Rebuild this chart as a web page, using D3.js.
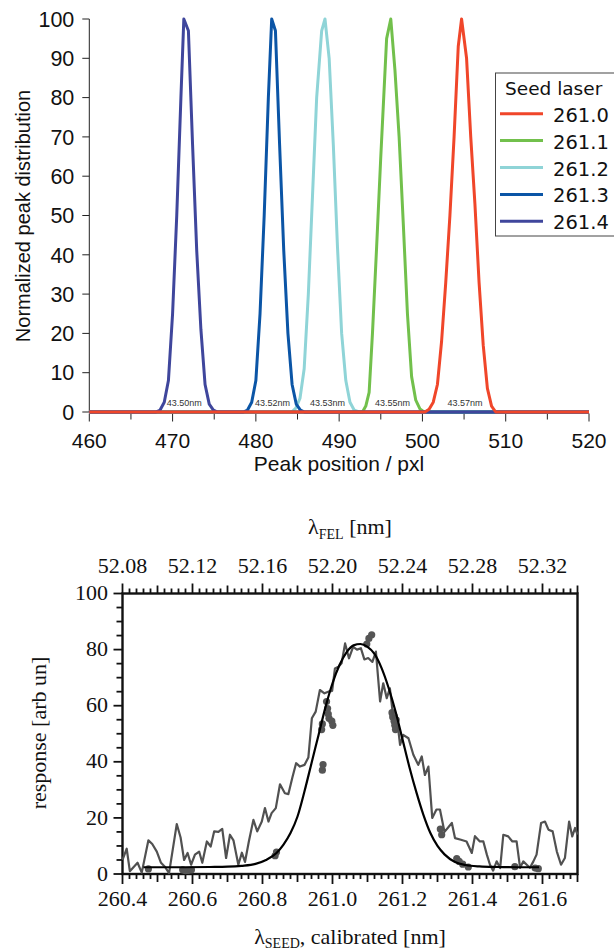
<!DOCTYPE html>
<html>
<head>
<meta charset="utf-8">
<script src="https://cdn.jsdelivr.net/npm/d3@7"></script>
<style>
  html, body { margin: 0; padding: 0; background: #fff; }
  svg { display: block; }
</style>
</head>
<body>
<svg id="chart" width="614" height="951"></svg>
<script>
// ---------------- DATA: top chart (peak distributions) ----------------
const seedLabels = ["261.0", "261.1", "261.2", "261.3", "261.4"];
const peakX_2610 = [460, 500.3, 500.8, 501.3, 501.8, 502.3, 502.8, 503.3, 503.8, 504.3, 504.7, 505.3, 505.8, 506.3, 506.8, 507.3, 507.8, 508.3, 508.8, 520];
const peakY_2610 = [0, 0, 0.7, 2.5, 7, 18, 33, 50, 70, 93, 100, 90, 70, 53, 33, 17, 6, 1.5, 0, 0];
const peakX_2611 = [460, 492.8, 493.2, 493.6, 494.0, 494.5, 495.0, 495.7, 496.2, 496.7, 497.2, 497.7, 498.2, 498.7, 499.2, 499.7, 500.2, 520];
const peakY_2611 = [0, 0, 1.5, 5, 20, 42, 65, 95, 100, 87, 70, 48, 25, 9, 3, 0.8, 0, 0];
const peakX_2612 = [460, 484.3, 484.8, 485.3, 485.8, 486.3, 486.8, 487.3, 487.9, 488.3, 488.8, 489.3, 489.8, 490.3, 490.8, 491.3, 491.8, 492.4, 520];
const peakY_2612 = [0, 0, 1, 3.5, 11, 30, 55, 80, 97, 100, 90, 68, 42, 20, 8, 2.5, 0.5, 0, 0];
const peakX_2613 = [460, 478.5, 479.0, 479.5, 480.0, 480.5, 481.0, 481.5, 481.9, 482.35, 482.85, 483.35, 483.85, 484.35, 484.85, 485.35, 485.85, 520];
const peakY_2613 = [0, 0, 0.5, 2.5, 8, 25, 50, 80, 100, 97, 68, 41, 20, 7, 2, 0.5, 0, 0];
const peakX_2614 = [460, 468.0, 468.5, 469.0, 469.5, 470.0, 470.5, 471.0, 471.35, 471.9, 472.4, 472.9, 473.4, 473.9, 474.4, 474.9, 475.4, 520];
const peakY_2614 = [0, 0, 0.5, 2.5, 8, 25, 50, 80, 100, 97, 68, 41, 21, 7, 2, 0.5, 0, 0];
const peakNotes = ["43.50nm", "43.52nm", "43.53nm", "43.55nm", "43.57nm"];
const peakNoteX = [471.4, 482.0, 488.6, 496.4, 505.1];
const topXTicks = [460, 470, 480, 490, 500, 510, 520];
const topYTicks = [0, 10, 20, 30, 40, 50, 60, 70, 80, 90, 100];

// ---------------- DATA: bottom chart (FEL response) ----------------
const noisyX = [260.400, 260.412, 260.421, 260.432, 260.443, 260.455, 260.474, 260.485, 260.498, 260.510, 260.521, 260.533,
  260.555, 260.566, 260.576, 260.586, 260.596, 260.607, 260.619, 260.628, 260.641, 260.652, 260.662, 260.674, 260.685,
  260.696, 260.707, 260.717, 260.731, 260.741, 260.750, 260.761, 260.774, 260.785, 260.798, 260.807, 260.817, 260.826,
  260.838, 260.850, 260.864, 260.874, 260.885, 260.896, 260.907, 260.920, 260.931, 260.941, 260.952, 260.964, 260.977,
  260.988, 260.999, 261.007, 261.017, 261.026, 261.036, 261.047, 261.059, 261.070, 261.081, 261.091, 261.102, 261.114,
  261.124, 261.136, 261.145, 261.155, 261.164, 261.174, 261.183, 261.193, 261.202, 261.217, 261.231, 261.245, 261.255,
  261.264, 261.274, 261.285, 261.297, 261.307, 261.320, 261.341, 261.350, 261.367, 261.383, 261.398, 261.407, 261.421,
  261.431, 261.441, 261.450, 261.459, 261.469, 261.479, 261.488, 261.502, 261.514, 261.526, 261.536, 261.545, 261.555,
  261.564, 261.574, 261.583, 261.596, 261.607, 261.617, 261.629, 261.641, 261.653, 261.664, 261.676, 261.685, 261.693, 261.700];
const noisyY = [5, 9, 1, 2.5, 4, 0.5, 12, 10.7, 8, 4, 2.6, 0.3,
  17.8, 13, 5, 7.5, 3.3, 6.9, 8, 4, 11.6, 9.8, 15.2, 15, 16.1,
  5.7, 14, 12, 3.3, 7.6, 4.3, 11.6, 19.3, 15.2, 18.7, 23.5, 18.7, 21.7,
  23.5, 32, 28.8, 28.5, 34.2, 39.5, 38.3, 38.9, 41.5, 55.5, 57.9, 65.6, 64.4,
  65, 65.3, 73.3, 73.9, 75.1, 82.2, 76.9, 81, 80, 80.5, 76.5, 77, 75.6,
  79.3, 61.5, 68, 62.7, 66.2, 55.5, 56.7, 46, 49.6, 48.4, 42.5, 38.9, 41.9,
  35.3, 38.3, 20, 23, 23, 15, 18.2, 12.8, 12.2, 11.6, 7.5, 13.5, 11.6,
  11.6, 6.9, 3.3, 1.2, 4.5, 2.1, 14, 13.4, 11.6, 11.6, 2.2, 4.5, 3.3,
  2.2, 4.5, 6.9, 18.2, 18.7, 15.8, 15.2, 8, 3.3, 5.7, 18.7, 13.4, 16.4, 14];
const fitX = [260.46, 260.55, 260.65, 260.70, 260.74, 260.78, 260.81, 260.84, 260.86, 260.88, 260.90, 260.92, 260.94, 260.96,
  260.98, 261.00, 261.02, 261.04, 261.06, 261.08, 261.10, 261.12, 261.14, 261.16, 261.18, 261.20, 261.22, 261.24, 261.26,
  261.28, 261.30, 261.32, 261.35, 261.38, 261.42, 261.47, 261.53, 261.59];
const fitY = [2.4, 2.4, 2.5, 2.6, 2.9, 3.6, 5.0, 7.5, 10.5, 14.6, 20.5, 29.5, 39.5, 49.5,
  59.5, 68, 74.5, 79, 81.5, 82, 81, 78.5, 73.5, 66.5, 58, 48, 38, 29, 21,
  14.5, 10, 7, 4.3, 3.2, 2.7, 2.5, 2.4, 2.4];
const dotX = [260.474, 260.572, 260.580, 260.588, 260.597, 260.836, 260.840, 260.971, 260.973, 260.969, 260.971, 260.983,
  260.986, 260.988, 260.990, 260.998, 261.001, 261.098, 261.104, 261.112, 261.170, 261.172, 261.176, 261.178, 261.182,
  261.180, 261.308, 261.312, 261.355, 261.362, 261.372, 261.388, 261.521, 261.579, 261.588];
const dotY = [1.8, 1.5, 1.2, 1.3, 1.5, 6.5, 7.8, 37, 39, 51.5, 53.5, 61.5,
  59, 57, 55.5, 54.5, 53, 82, 84, 85.3, 57.5, 56, 54.5, 53, 55,
  51.5, 16, 14, 5.5, 4.5, 3.5, 2.5, 2.6, 2.1, 1.9];
const seedMajorTicks = [260.4, 260.6, 260.8, 261.0, 261.2, 261.4, 261.6];
const felMajorTicks = [52.08, 52.12, 52.16, 52.20, 52.24, 52.28, 52.32];
const respTicks = [0, 20, 40, 60, 80, 100];

// ---------------- STYLES ----------------
const seedColors = ["#f0462a", "#72c04c", "#8fd4d7", "#0b55a6", "#3f469c"];
const drawOrder = [2, 1, 3, 4, 0];

const svg = d3.select("#chart");
svg.append("rect").attr("width", 614).attr("height", 951).attr("fill", "#fff");

// ================= TOP CHART =================
const sans = "'Liberation Sans', Arial, sans-serif";
const xT = d3.scaleLinear().domain([460, 520]).range([89.3, 589]);
const yT = d3.scaleLinear().domain([0, 100]).range([412, 19]);
const topG = svg.append("g");

// x axis
const xAxT = topG.append("g").attr("transform", "translate(0,413.5)");
xAxT.append("line").attr("x1", xT(460)).attr("x2", xT(520)).attr("stroke", "#aaa6cc").attr("stroke-width", 1.2);
const minorTopX = d3.range(0, 13).map(i => 460 + i * 5);
xAxT.selectAll("line.t").data(minorTopX).join("line").attr("class", "t")
  .attr("x1", d => xT(d)).attr("x2", d => xT(d)).attr("y1", 0).attr("y2", d => d % 10 === 0 ? 8 : 6)
  .attr("stroke", "#222").attr("stroke-width", 1);
xAxT.selectAll("text").data(topXTicks).join("text")
  .attr("x", d => xT(d)).attr("y", 34).attr("text-anchor", "middle")
  .attr("font-family", sans).attr("font-size", 21).attr("fill", "#111").text(d => d);

// y axis
const yAxT = topG.append("g").attr("transform", `translate(${xT(460)},0)`);
yAxT.append("line").attr("y1", yT(0)).attr("y2", yT(100)).attr("stroke", "#222").attr("stroke-width", 1);
yAxT.selectAll("line.t").data(topYTicks).join("line").attr("class", "t")
  .attr("x1", -7).attr("x2", 0).attr("y1", d => yT(d)).attr("y2", d => yT(d)).attr("stroke", "#222");
yAxT.selectAll("text").data(topYTicks).join("text")
  .attr("x", -15).attr("y", d => yT(d)).attr("dy", "0.36em").attr("text-anchor", "end")
  .attr("font-family", sans).attr("font-size", 21.5).attr("fill", "#111").text(d => d);

topG.append("text").attr("x", 339).attr("y", 471).attr("text-anchor", "middle")
  .attr("font-family", sans).attr("font-size", 21).attr("fill", "#111").text("Peak position / pxl");
topG.append("text").attr("transform", "translate(30,216) rotate(-90)").attr("text-anchor", "middle")
  .attr("font-family", sans).attr("font-size", 20).attr("fill", "#111").text("Normalized peak distribution");

const peakXs = [peakX_2610, peakX_2611, peakX_2612, peakX_2613, peakX_2614];
const peakYs = [peakY_2610, peakY_2611, peakY_2612, peakY_2613, peakY_2614];
const lineT = d3.line().x(d => xT(d[0])).y(d => yT(d[1]));
drawOrder.forEach(i => {
  const pts = peakXs[i].map((x, k) => [x, peakYs[i][k]]);
  topG.append("path").attr("d", lineT(pts)).attr("fill", "none")
    .attr("stroke", seedColors[i]).attr("stroke-width", 3).attr("stroke-linejoin", "round");
});

topG.selectAll("text.note").data(peakNotes).join("text").attr("class", "note")
  .attr("x", (d, i) => xT(peakNoteX[i])).attr("y", 406).attr("text-anchor", "middle")
  .attr("font-family", sans).attr("font-size", 9).attr("fill", "#333").text(d => d);

// legend
const leg = topG.append("g");
leg.append("rect").attr("x", 495.5).attr("y", 73).attr("width", 130).attr("height", 163)
  .attr("fill", "#fff").attr("stroke", "#444").attr("stroke-width", 1);
leg.append("text").attr("x", 505).attr("y", 95).attr("font-family", "'DejaVu Sans', sans-serif")
  .attr("font-size", 18.5).attr("fill", "#111").text("Seed laser");
seedLabels.forEach((s, i) => {
  const yy = 113.7 + i * 26.9;
  leg.append("line").attr("x1", 500).attr("x2", 543).attr("y1", yy).attr("y2", yy)
    .attr("stroke", seedColors[i]).attr("stroke-width", 3);
  leg.append("text").attr("x", 553).attr("y", yy + 8).attr("font-family", "'DejaVu Sans', sans-serif")
    .attr("font-size", 19.5).attr("fill", "#111").text(s);
});

// ================= BOTTOM CHART =================
const serif = "'Liberation Serif', 'Times New Roman', serif";
const xB = d3.scaleLinear().domain([260.4, 261.7]).range([122.5, 577.5]);
const xF = d3.scaleLinear().domain([52.08, 52.34]).range([122.5, 577.5]);
const yB = d3.scaleLinear().domain([0, 100]).range([874, 593.5]);
const bot = svg.append("g");

const tickColor = "#111";
// bottom axis ticks
const seedMinor = d3.range(0, 66).map(i => +(260.4 + i * 0.02).toFixed(2));
bot.selectAll("line.bx").data(seedMinor).join("line").attr("class", "bx")
  .attr("x1", d => xB(d)).attr("x2", d => xB(d)).attr("y1", yB(0))
  .attr("y2", (d, i) => yB(0) + (i % 10 === 0 ? 10 : (i % 5 === 0 ? 8 : 5)))
  .attr("stroke", tickColor).attr("stroke-width", 1.8);
bot.selectAll("text.bx").data(seedMajorTicks).join("text").attr("class", "bx")
  .attr("x", d => xB(d)).attr("y", 906).attr("text-anchor", "middle")
  .attr("font-family", serif).attr("font-size", 22).attr("fill", "#111").text(d => d.toFixed(1));

// top axis ticks (FEL)
const felMinor = d3.range(0, 66).map(i => +(52.08 + i * 0.004).toFixed(3));
bot.selectAll("line.tx").data(felMinor).join("line").attr("class", "tx")
  .attr("x1", d => xF(d)).attr("x2", d => xF(d)).attr("y1", yB(100))
  .attr("y2", (d, i) => yB(100) - (i % 10 === 0 ? 10 : (i % 5 === 0 ? 8 : 5)))
  .attr("stroke", tickColor).attr("stroke-width", 1.8);
bot.selectAll("text.tx").data(felMajorTicks).join("text").attr("class", "tx")
  .attr("x", d => xF(d)).attr("y", 573).attr("text-anchor", "middle")
  .attr("font-family", serif).attr("font-size", 22).attr("fill", "#111").text(d => d.toFixed(2));

// left axis ticks
const respMinor = d3.range(0, 21).map(i => i * 5);
bot.selectAll("line.ly").data(respMinor).join("line").attr("class", "ly")
  .attr("x1", d => xB(260.4) - (d % 20 === 0 ? 9 : 6)).attr("x2", xB(260.4))
  .attr("y1", d => yB(d)).attr("y2", d => yB(d)).attr("stroke", tickColor).attr("stroke-width", 1.8);
bot.selectAll("text.ly").data(respTicks).join("text").attr("class", "ly")
  .attr("x", 108).attr("y", d => yB(d)).attr("dy", "0.3em").attr("text-anchor", "end")
  .attr("font-family", serif).attr("font-size", 22).attr("fill", "#111").text(d => d);

// frame
bot.append("rect").attr("x", xB(260.4)).attr("y", yB(100))
  .attr("width", xB(261.7) - xB(260.4)).attr("height", yB(0) - yB(100))
  .attr("fill", "none").attr("stroke", "#111").attr("stroke-width", 2.4);

// titles
const t1 = bot.append("text").attr("x", 350).attr("y", 534).attr("text-anchor", "middle")
  .attr("font-family", serif).attr("font-size", 22).attr("fill", "#111");
t1.append("tspan").text("λ");
t1.append("tspan").attr("font-size", 14).attr("dy", 5).text("FEL");
t1.append("tspan").attr("dy", -5).text(" [nm]");
const t2 = bot.append("text").attr("x", 350).attr("y", 944).attr("text-anchor", "middle")
  .attr("font-family", serif).attr("font-size", 22).attr("fill", "#111");
t2.append("tspan").text("λ");
t2.append("tspan").attr("font-size", 14).attr("dy", 4).text("SEED");
t2.append("tspan").attr("dy", -4).text(", calibrated [nm]");
bot.append("text").attr("transform", "translate(46,733) rotate(-90)").attr("text-anchor", "middle")
  .attr("font-family", serif).attr("font-size", 22).attr("fill", "#111").text("response [arb un]");

// data
const plotG = bot.append("g");
plotG.selectAll("circle").data(dotX).join("circle")
  .attr("cx", d => xB(d)).attr("cy", (d, i) => yB(dotY[i])).attr("r", 3.6).attr("fill", "#555");
const lineB = d3.line().x(d => xB(d[0])).y(d => yB(d[1]));
plotG.append("path").attr("d", lineB(noisyX.map((x, i) => [x, noisyY[i]])))
  .attr("fill", "none").attr("stroke", "#515151").attr("stroke-width", 2.2).attr("stroke-linejoin", "round");
plotG.append("path").attr("d", lineB.curve(d3.curveMonotoneX)(fitX.map((x, i) => [x, fitY[i]])))
  .attr("fill", "none").attr("stroke", "#000").attr("stroke-width", 2.2);
</script>
</body>
</html>
